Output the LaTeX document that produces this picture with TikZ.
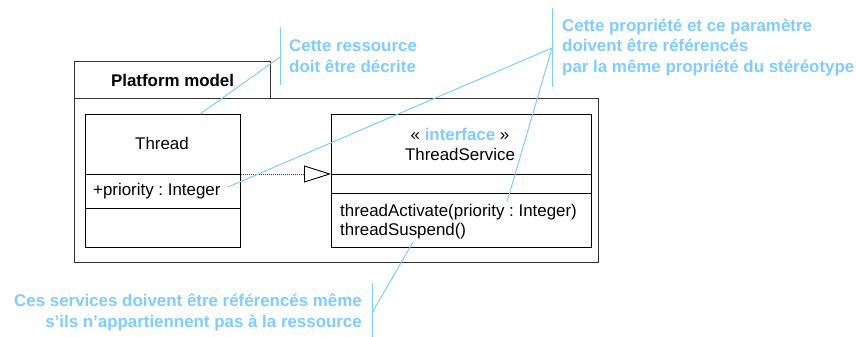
\documentclass[tikz,border=0pt]{standalone}
\usepackage{fontspec}
\setmainfont{Liberation Sans}
\usetikzlibrary{arrows.meta}
\definecolor{note}{RGB}{128,204,255}
\frenchspacing
\tikzset{
  umlbox/.style={draw=black, line width=0.9pt, inner sep=0pt, fill=white},
  pkgline/.style={draw=black!80, line width=1.2pt},
  txt/.style={inner sep=0pt, font=\fontsize{16.9}{20}\selectfont},
  notetxt/.style={inner sep=0pt, text=note, font=\fontsize{16.9}{20.5}\selectfont\bfseries},
  noteline/.style={draw=note, line width=1pt},
  realize/.style={draw=black!70, line width=0.6pt, dash pattern=on 1pt off 1pt, -{Triangle[open,length=27pt,width=17pt,line width=0.9pt,black]}}
}
\begin{document}
\begin{tikzpicture}[x=1pt,y=-1pt]
\useasboundingbox (0,0) rectangle (856,337);
% package
\node[pkgline, inner sep=0pt, minimum width=196pt, minimum height=37pt, anchor=north west, font=\fontsize{16.9}{20}\selectfont\bfseries] (tab) at (74,61) {Platform model};
\node[pkgline, minimum width=524pt, minimum height=164pt, anchor=north west] (pkg) at (74,98) {};
% Thread class
\node[umlbox, minimum width=155pt, minimum height=133pt, anchor=north west] (thread) at (85,114) {};
\coordinate (thd1) at (85,174);
\coordinate (thd2) at (85,208);
\draw[line width=0.9pt] (thd1) -- (thd1 -| thread.east);
\draw[line width=0.9pt] (thd2) -- (thd2 -| thread.east);
\node[txt] (thname) at (162,143) {Thread};
\node[txt, anchor=west] (prio) at (93,191) {+priority : Integer};
% ThreadService interface
\node[umlbox, minimum width=260pt, minimum height=133pt, anchor=north west] (ts) at (331,114) {};
\coordinate (tsd1) at (331,174);
\coordinate (tsd2) at (331,193);
\draw[line width=0.9pt] (tsd1) -- (tsd1 -| ts.east);
\draw[line width=0.9pt] (tsd2) -- (tsd2 -| ts.east);
\node[txt] (stereo) at (460,134) {« \textcolor{note}{\bfseries interface} »};
\node[txt] (tsname) at (460,154) {ThreadService};
\node[txt, anchor=west] (act) at (340,212) {threadActivate(priority : Integer)};
\node[txt, anchor=west] (susp) at (340,231) {threadSuspend()};
% realization
\draw[realize] (thd1 -| thread.east) -- (tsd1);
% note 1
\coordinate (n1a) at (280,27);
\coordinate (n1b) at (280,85);
\coordinate (n1c) at (280,57);
\draw[noteline] (n1a) -- (n1b);
\node[notetxt, anchor=west, align=left] (note1) at (289,56) {Cette ressource\\doit être décrite};
\draw[noteline] (n1c) -- (thread.north -| 200,0);
% note 2
\coordinate (n2a) at (552,8);
\coordinate (n2b) at (552,87);
\coordinate (n2c) at (552,48);
\draw[noteline] (n2a) -- (n2b);
\node[notetxt, anchor=west, align=left] (note2) at (562,47.5) {Cette propriété et ce paramètre\\doivent être référencés\\par la même propriété du stéréotype};
\coordinate (prioend) at (228,187);
\coordinate (actpt) at (507,202);
\draw[noteline] (n2c) -- (prioend);
\draw[noteline] (n2c) -- (actpt);
% note 3
\coordinate (n3a) at (372,283);
\coordinate (n3b) at (372,337);
\coordinate (n3c) at (372,313);
\draw[noteline] (n3a) -- (n3b);
\node[notetxt, anchor=east, align=right] (note3) at (362,312.5) {Ces services doivent être référencés même\\s’ils n’appartiennent pas à la ressource};
\coordinate (susppt) at (413,242);
\draw[noteline] (n3c) -- (susppt);
\end{tikzpicture}
\end{document}
